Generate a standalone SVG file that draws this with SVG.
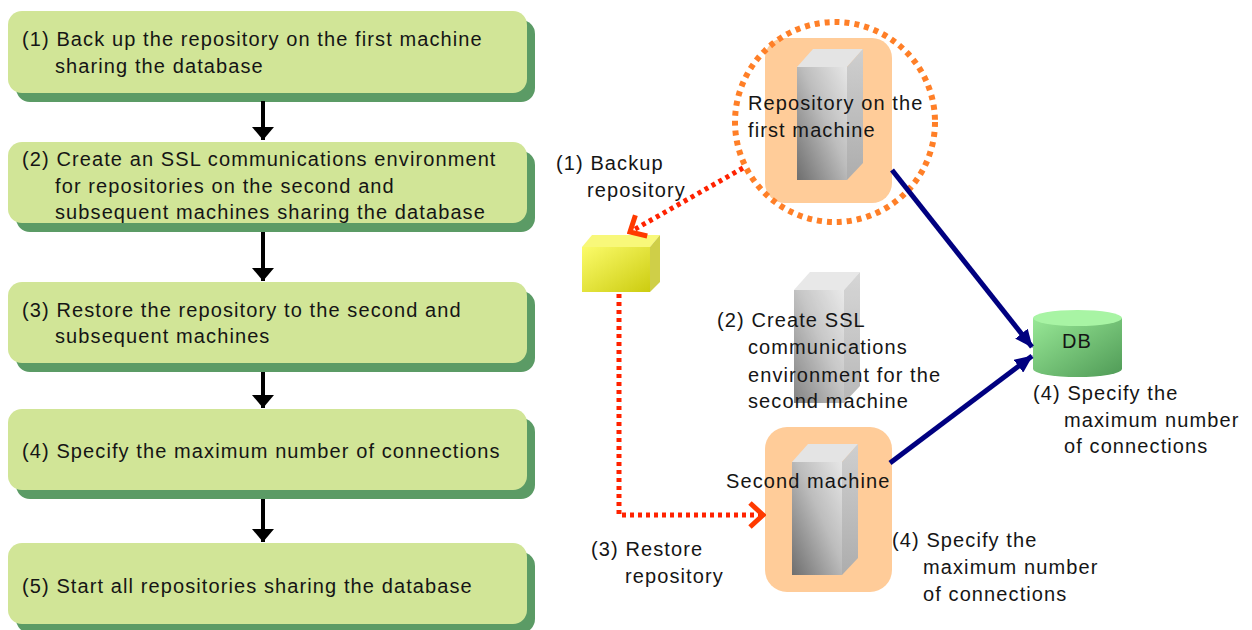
<svg xmlns="http://www.w3.org/2000/svg" width="1252" height="630" viewBox="0 0 1252 630">
  <style>
    .txt { font-family: "Liberation Sans", Arial, sans-serif; font-size: 20px; letter-spacing: 1.1px; fill: #151515; }
    .step { fill: #d1e597; }
    .shadow { fill: #5b9b65; }
    .host { fill: #ffcc99; }
    .flow { stroke: #000; stroke-width: 4; fill: none; marker-end: url(#blk); }
    .db-link { stroke: #000080; stroke-width: 5; fill: none; marker-end: url(#navy); }
    .copy { stroke: #ff2200; stroke-width: 5; stroke-dasharray: 4 4; fill: none; marker-end: url(#chev); }
  </style>
  <defs>
    <marker id="blk" viewBox="0 0 13 22" markerWidth="13" markerHeight="22" refX="13" refY="11" orient="auto" markerUnits="userSpaceOnUse">
      <path d="M0,0 L13,11 L0,22 Z" fill="#000"/>
    </marker>
    <marker id="navy" viewBox="0 0 18 16" markerWidth="18" markerHeight="16" refX="17" refY="8" orient="auto" markerUnits="userSpaceOnUse">
      <path d="M0,0 L18,8 L0,16 Z" fill="#000080"/>
    </marker>
    <marker id="chev" viewBox="0 0 18 28" markerWidth="18" markerHeight="28" refX="15" refY="14" orient="auto" markerUnits="userSpaceOnUse">
      <path d="M2,2 L15,14 L2,26" fill="none" stroke="#ff3a00" stroke-width="5"/>
    </marker>
    <linearGradient id="towerFront" x1="1" y1="0" x2="0" y2="1">
      <stop offset="0" stop-color="#e6e6e6"/>
      <stop offset="0.45" stop-color="#bdbdbd"/>
      <stop offset="1" stop-color="#6e6e6e"/>
    </linearGradient>
    <linearGradient id="towerSide" x1="0" y1="0" x2="0" y2="1">
      <stop offset="0" stop-color="#cfcfcf"/>
      <stop offset="1" stop-color="#adadad"/>
    </linearGradient>
    <linearGradient id="boxFront" x1="0" y1="0" x2="1" y2="1">
      <stop offset="0" stop-color="#fbfb6a"/>
      <stop offset="1" stop-color="#cccc10"/>
    </linearGradient>
    <linearGradient id="dbBody" x1="0" y1="0" x2="1" y2="1">
      <stop offset="0" stop-color="#98e896"/>
      <stop offset="1" stop-color="#4f9a56"/>
    </linearGradient>
    <!-- server tower: top, side and front faces -->
    <g id="tower">
      <path d="M0,18 L16,0 L66,0 L50,18 Z" fill="#e4e4e4"/>
      <path d="M50,18 L66,0 L66,114 L50,131 Z" fill="url(#towerSide)"/>
      <rect x="0" y="18" width="50" height="113" fill="url(#towerFront)"/>
    </g>
  </defs>

  <!-- procedure steps -->
  <g id="step1">
    <rect class="shadow" x="16" y="20" width="519" height="82" rx="14"/>
    <rect class="step" x="8" y="11" width="519" height="82" rx="14"/>
    <text class="txt" x="22" y="46">(1) Back up the repository on the first machine</text>
    <text class="txt" x="55" y="73">sharing the database</text>
  </g>
  <g id="step2">
    <rect class="shadow" x="16" y="151" width="519" height="81" rx="14"/>
    <rect class="step" x="8" y="142" width="519" height="81" rx="14"/>
    <text class="txt" x="22" y="166">(2) Create an SSL communications environment</text>
    <text class="txt" x="55" y="193">for repositories on the second and</text>
    <text class="txt" x="55" y="219">subsequent machines sharing the database</text>
  </g>
  <g id="step3">
    <rect class="shadow" x="16" y="291" width="519" height="81" rx="14"/>
    <rect class="step" x="8" y="282" width="519" height="81" rx="14"/>
    <text class="txt" x="22" y="317">(3) Restore the repository to the second and</text>
    <text class="txt" x="55" y="343">subsequent machines</text>
  </g>
  <g id="step4">
    <rect class="shadow" x="16" y="418" width="519" height="81" rx="14"/>
    <rect class="step" x="8" y="409" width="519" height="81" rx="14"/>
    <text class="txt" x="22" y="458">(4) Specify the maximum number of connections</text>
  </g>
  <g id="step5">
    <rect class="shadow" x="16" y="552" width="519" height="81" rx="14"/>
    <rect class="step" x="8" y="543" width="519" height="81" rx="14"/>
    <text class="txt" x="22" y="593">(5) Start all repositories sharing the database</text>
  </g>

  <!-- machines, backup and database -->
  <g id="first-machine">
    <rect class="host" x="765" y="38" width="127" height="165" rx="20"/>
    <use href="#tower" x="797" y="49"/>
    <circle cx="835" cy="122" r="100" fill="none" stroke="#ff7f27" stroke-width="6" stroke-dasharray="5 5"/>
    <text class="txt" x="748" y="110">Repository on the</text>
    <text class="txt" x="748" y="137">first machine</text>
  </g>
  <g id="backup">
    <path d="M582,247 L592,235 L660,235 L650,247 Z" fill="#f8f87a"/>
    <path d="M650,247 L660,235 L660,282 L650,292 Z" fill="#cfcf48"/>
    <rect x="582" y="247" width="68" height="45" fill="url(#boxFront)"/>
    <text class="txt" x="556" y="170">(1) Backup</text>
    <text class="txt" x="587" y="197">repository</text>
  </g>
  <g id="ssl-env">
    <use href="#tower" x="794" y="272" opacity="0.85"/>
    <text class="txt" x="717" y="327">(2) Create SSL</text>
    <text class="txt" x="748" y="354">communications</text>
    <text class="txt" x="748" y="382">environment for the</text>
    <text class="txt" x="748" y="408">second machine</text>
  </g>
  <g id="second-machine">
    <rect class="host" x="765" y="427" width="127" height="165" rx="22"/>
    <use href="#tower" x="792" y="444"/>
    <text class="txt" x="726" y="488">Second machine</text>
    <text class="txt" x="892" y="547">(4) Specify the</text>
    <text class="txt" x="923" y="574">maximum number</text>
    <text class="txt" x="923" y="601">of connections</text>
  </g>
  <g id="restore-label">
    <text class="txt" x="591" y="556">(3) Restore</text>
    <text class="txt" x="625" y="583">repository</text>
  </g>
  <g id="database">
    <path d="M1033,318 L1033,369 A44,8 0 0 0 1122,369 L1122,318 Z" fill="url(#dbBody)"/>
    <ellipse cx="1077.5" cy="318" rx="44.5" ry="8" fill="#a8f4a4"/>
    <text class="txt" x="1062" y="348">DB</text>
    <text class="txt" x="1033" y="400">(4) Specify the</text>
    <text class="txt" x="1064" y="427">maximum number</text>
    <text class="txt" x="1064" y="453">of connections</text>
  </g>

  <!-- connectors -->
  <g id="connectors">
    <path class="flow" d="M263,101 V140"/>
    <path class="flow" d="M263,232 V281"/>
    <path class="flow" d="M263,372 V408"/>
    <path class="flow" d="M263,499 V542"/>
    <path class="db-link" d="M892,170 L1032,347"/>
    <path class="db-link" d="M890,463 L1032,356"/>
    <path class="copy" d="M743,168 L630,232"/>
    <path class="copy" d="M619,294 V515 H763"/>
  </g>
</svg>
